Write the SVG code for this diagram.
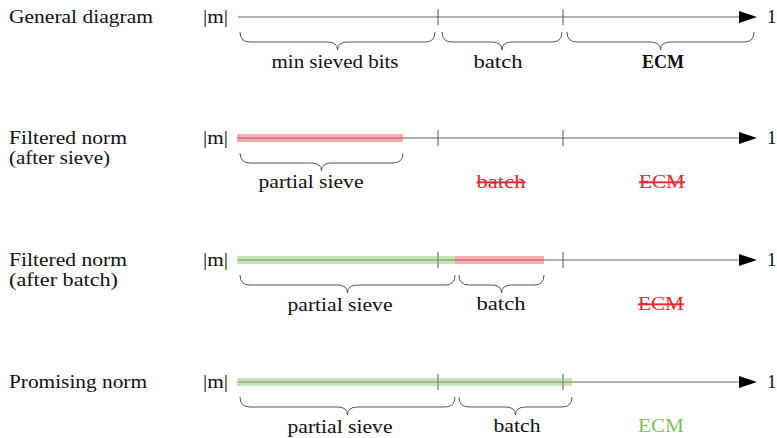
<svg xmlns="http://www.w3.org/2000/svg" width="777" height="438" viewBox="0 0 777 438">
<style>
text{font-family:"Liberation Serif","Times New Roman",serif;font-size:19px;fill:#111}
.mid{text-anchor:middle}
.axis{stroke:#666;stroke-width:1;fill:none}
.tick{stroke:#555;stroke-width:1}
.brace{stroke:#555;stroke-width:1;fill:none}
.head{fill:#000}
.redbar{fill:rgb(240,70,80);fill-opacity:0.45}
.greenbar{fill:rgb(130,195,90);fill-opacity:0.45}
.red{fill:#e8262f;text-decoration:line-through}
.green{fill:#7cc354}
.bold{font-weight:bold}
</style>
<g id="row-general">
<text x="9" y="23" textLength="144" lengthAdjust="spacingAndGlyphs">General diagram</text>
<text x="203" y="23" textLength="25" lengthAdjust="spacingAndGlyphs">|m|</text>
<text x="767" y="23">1</text>
</g>
<g id="row-after-sieve">
<text x="9" y="144" textLength="118" lengthAdjust="spacingAndGlyphs">Filtered norm</text>
<text x="9" y="164" textLength="101" lengthAdjust="spacingAndGlyphs">(after sieve)</text>
<text x="203" y="144" textLength="25" lengthAdjust="spacingAndGlyphs">|m|</text>
<text x="767" y="144">1</text>
</g>
<g id="row-after-batch">
<text x="9" y="266" textLength="118" lengthAdjust="spacingAndGlyphs">Filtered norm</text>
<text x="9" y="286" textLength="109" lengthAdjust="spacingAndGlyphs">(after batch)</text>
<text x="203" y="266" textLength="25" lengthAdjust="spacingAndGlyphs">|m|</text>
<text x="767" y="266">1</text>
</g>
<g id="row-promising">
<text x="9" y="388" textLength="138" lengthAdjust="spacingAndGlyphs">Promising norm</text>
<text x="203" y="388" textLength="25" lengthAdjust="spacingAndGlyphs">|m|</text>
<text x="767" y="388">1</text>
</g>
<g id="connectors">
<line class="axis" x1="238" y1="17" x2="742" y2="17"/>
<polygon class="head" points="739,11 757,17 739,23"/>
<line class="tick" x1="438" y1="9" x2="438" y2="25"/>
<line class="tick" x1="563" y1="9" x2="563" y2="25"/>
<line class="axis" x1="238" y1="138" x2="742" y2="138"/>
<polygon class="head" points="739,132 757,138 739,144"/>
<line class="tick" x1="438" y1="130" x2="438" y2="146"/>
<line class="tick" x1="563" y1="130" x2="563" y2="146"/>
<rect class="redbar" x="237" y="134" width="166" height="8"/>
<line class="axis" x1="238" y1="260" x2="742" y2="260"/>
<polygon class="head" points="739,254 757,260 739,266"/>
<line class="tick" x1="438" y1="252" x2="438" y2="268"/>
<line class="tick" x1="563" y1="252" x2="563" y2="268"/>
<rect class="greenbar" x="237" y="256" width="218" height="8"/>
<rect class="redbar" x="455" y="256" width="89" height="8"/>
<line class="axis" x1="238" y1="382" x2="742" y2="382"/>
<polygon class="head" points="739,376 757,382 739,388"/>
<line class="tick" x1="438" y1="374" x2="438" y2="390"/>
<line class="tick" x1="563" y1="374" x2="563" y2="390"/>
<rect class="greenbar" x="237" y="378" width="335" height="8"/>
</g>
<g id="braces">
<path class="brace" d="M240,32 Q240,42 250,42 L327.5,42 Q337.5,42 337.5,50 Q337.5,42 347.5,42 L425,42 Q435,42 435,32"/>
<path class="brace" d="M442,32 Q442,42 452,42 L492,42 Q502,42 502,50 Q502,42 512,42 L552,42 Q562,42 562,32"/>
<path class="brace" d="M567,32 Q567,42 577,42 L650.5,42 Q660.5,42 660.5,50 Q660.5,42 670.5,42 L744,42 Q754,42 754,32"/>
<path class="brace" d="M240,153 Q240,163 250,163 L311.5,163 Q321.5,163 321.5,171 Q321.5,163 331.5,163 L393,163 Q403,163 403,153"/>
<path class="brace" d="M240,275 Q240,285 250,285 L337.5,285 Q347.5,285 347.5,293 Q347.5,285 357.5,285 L445,285 Q455,285 455,275"/>
<path class="brace" d="M459,275 Q459,285 469,285 L491.5,285 Q501.5,285 501.5,293 Q501.5,285 511.5,285 L534,285 Q544,285 544,275"/>
<path class="brace" d="M240,397 Q240,407 250,407 L337.5,407 Q347.5,407 347.5,415 Q347.5,407 357.5,407 L445,407 Q455,407 455,397"/>
<path class="brace" d="M459,397 Q459,407 469,407 L505.5,407 Q515.5,407 515.5,415 Q515.5,407 525.5,407 L562,407 Q572,407 572,397"/>
</g>
<g id="labels">
<text class="mid" x="335" y="68" textLength="127" lengthAdjust="spacingAndGlyphs">min sieved bits</text>
<text class="mid" x="498" y="68" textLength="49" lengthAdjust="spacingAndGlyphs">batch</text>
<text class="mid bold" x="663" y="68" textLength="42" lengthAdjust="spacingAndGlyphs">ECM</text>
<text class="mid" x="311" y="188" textLength="105" lengthAdjust="spacingAndGlyphs">partial sieve</text>
<text class="mid red" x="501" y="188" textLength="49" lengthAdjust="spacingAndGlyphs">batch</text>
<text class="mid red" x="662" y="188" textLength="46" lengthAdjust="spacingAndGlyphs">ECM</text>
<text class="mid" x="340" y="311" textLength="105" lengthAdjust="spacingAndGlyphs">partial sieve</text>
<text class="mid" x="501" y="310" textLength="49" lengthAdjust="spacingAndGlyphs">batch</text>
<text class="mid red" x="661" y="310" textLength="46" lengthAdjust="spacingAndGlyphs">ECM</text>
<text class="mid" x="340" y="433" textLength="105" lengthAdjust="spacingAndGlyphs">partial sieve</text>
<text class="mid" x="517" y="432" textLength="47" lengthAdjust="spacingAndGlyphs">batch</text>
<text class="mid green" x="661" y="432" textLength="46" lengthAdjust="spacingAndGlyphs">ECM</text>
</g>
</svg>
